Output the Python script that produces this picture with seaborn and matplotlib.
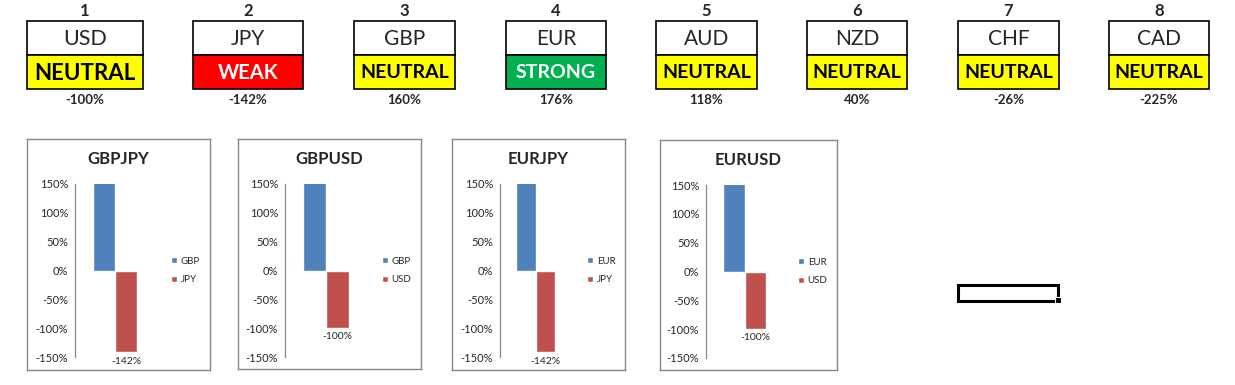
#!/usr/bin/env python3
"""Currency strength dashboard: status cards plus pair bar charts."""

import matplotlib
matplotlib.use("Agg")
import matplotlib.pyplot as plt
from matplotlib.patches import Patch, Rectangle
import pandas as pd
import seaborn as sns


# data
ranks = [1, 2, 3, 4, 5, 6, 7, 8]
currencies = ["USD", "JPY", "GBP", "EUR", "AUD", "NZD", "CHF", "CAD"]
statuses = ["NEUTRAL", "WEAK", "NEUTRAL", "STRONG", "NEUTRAL", "NEUTRAL", "NEUTRAL", "NEUTRAL"]
strengths = [-100, -142, 160, 176, 118, 40, -26, -225]

pairs = ["GBPJPY", "GBPUSD", "EURJPY", "EURUSD"]
pair_base = ["GBP", "GBP", "EUR", "EUR"]
pair_quote = ["JPY", "USD", "JPY", "USD"]
y_ticks = [-150, -100, -50, 0, 50, 100, 150]

W, H = 1235, 385
FONT = ["Lato", "DejaVu Sans"]
STATUS_COLORS = {"NEUTRAL": ("#FFFF00", "black"), "WEAK": ("#FF0000", "white"),
                 "STRONG": ("#00B050", "white")}
BAR_COLORS = ["#4F81BD", "#C0504D"]
BORDER = "#858a85"

# layout in pixels
card_left = [27, 193, 354, 506, 656, 807, 958, 1109]
card_width = [116, 110, 101, 100, 101, 100, 101, 100]
status_size = [16, 14.5, 14, 14, 14, 14, 14, 14]
ccy_size = [15.5, 15, 15, 15, 15, 15, 15, 15]
card_top, card_mid, card_bottom = 21, 55, 89

chart_boxes = [(27, 139, 210, 370), (238, 139, 421, 369), (452, 139, 625, 370), (660, 140, 837, 370)]
chart_spine = [75, 285, 500, 706]
chart_plot_w = [80, 82, 71, 77]
chart_plot_y = [(184, 357), (184, 357), (184, 357), (185, 358)]
legend_x = [171, 382, 587, 798]


def fig_rect(x0, y0, x1, y1):
    return [x0 / W, 1 - y1 / H, (x1 - x0) / W, (y1 - y0) / H]


sns.set_theme(style="white")
plt.rcParams["font.family"] = FONT

fig = plt.figure(figsize=(W / 100, H / 100), dpi=100)
fig.patch.set_facecolor("white")

# overlay in pixel units for the cards
over = fig.add_axes([0, 0, 1, 1])
over.set_xlim(0, W)
over.set_ylim(H, 0)
over.axis("off")

for i, ccy in enumerate(currencies):
    x0, w = card_left[i], card_width[i]
    cx = x0 + w / 2
    fill, tcol = STATUS_COLORS[statuses[i]]
    over.add_patch(Rectangle((x0, card_top), w, card_mid - card_top,
                             facecolor="white", edgecolor="black", lw=1.2))
    over.add_patch(Rectangle((x0, card_mid), w, card_bottom - card_mid,
                             facecolor=fill, edgecolor="black", lw=1.2))
    over.text(cx, 11, str(ranks[i]), ha="center", va="center", fontsize=12, fontweight="bold")
    over.text(cx, 39, ccy, ha="center", va="center", fontsize=ccy_size[i])
    over.text(cx, 73, statuses[i], ha="center", va="center", fontsize=status_size[i],
              fontweight="bold", color=tcol)
    over.text(cx, 100, f"{strengths[i]}%", ha="center", va="center", fontsize=9.5,
              fontweight="bold")

# selected cell
over.add_patch(Rectangle((958, 285), 100, 16, facecolor="none", edgecolor="black", lw=2.2))
over.add_patch(Rectangle((1055, 297), 6, 6, facecolor="black", edgecolor="white",
                         lw=0.8, zorder=5))

strength_of = dict(zip(currencies, strengths))

for k, pair in enumerate(pairs):
    bx0, by0, bx1, by1 = chart_boxes[k]
    box = fig.add_axes(fig_rect(bx0, by0, bx1, by1))
    box.set_xticks([])
    box.set_yticks([])
    box.set_facecolor("white")
    for s in box.spines.values():
        s.set_color(BORDER)
        s.set_linewidth(1)
    box.text(0.5, 1 - 20 / (by1 - by0), pair, transform=box.transAxes, ha="center",
             va="center", fontsize=12, fontweight="bold")

    names = [pair_base[k], pair_quote[k]]
    df = pd.DataFrame({"ccy": names, "val": [strength_of[n] for n in names]})
    py0, py1 = chart_plot_y[k]
    ax = fig.add_axes(fig_rect(chart_spine[k], py0, chart_spine[k] + chart_plot_w[k], py1))
    sns.barplot(data=df, x="ccy", y="val", hue="ccy", palette=BAR_COLORS, width=1,
                saturation=1, legend=False, ax=ax)
    ax.set_facecolor("none")
    ax.set_xlim(-1.3, 2.3)
    ax.set_ylim(-150, 150)
    ax.set_yticks(y_ticks)
    ax.set_yticklabels([f"{t}%" for t in y_ticks], fontsize=8)
    ax.set_xticks([])
    ax.set_xlabel("")
    ax.set_ylabel("")
    for side in ["top", "right", "bottom"]:
        ax.spines[side].set_visible(False)
    ax.spines["left"].set_color(BORDER)
    ax.spines["left"].set_linewidth(0.9)
    ax.tick_params(axis="y", direction="out", length=3, width=0.8, color=BORDER, pad=2)
    ax.bar_label(ax.containers[1], labels=[f"{df['val'][1]}%"], padding=3, fontsize=7.5)

    handles = [Patch(facecolor=BAR_COLORS[j], label=names[j]) for j in range(2)]
    fig.legend(handles=handles, loc="center left",
               bbox_to_anchor=(legend_x[k] / W, 1 - ((py0 + py1) / 2 + 0) / H),
               frameon=False, fontsize=7, handlelength=0.6, handleheight=0.6,
               handletextpad=0.4, labelspacing=1.0, borderpad=0, borderaxespad=0)

fig.savefig("out.png", dpi=100, facecolor="white")
